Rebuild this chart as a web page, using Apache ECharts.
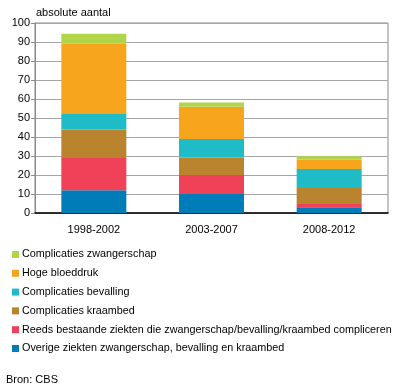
<!DOCTYPE html>
<html><head><meta charset="utf-8">
<script src="https://cdn.jsdelivr.net/npm/echarts@6/dist/echarts.min.js"></script>
<style>html,body{margin:0;padding:0;background:#fff}#c{width:396px;height:391px}</style>
</head><body><div id="c"></div>
<script>
const categories = ['1998-2002', '2003-2007', '2008-2012'];
const overige = [12, 10, 3];
const reeds = [17, 10, 1.8];
const kraambed = [15, 9.2, 8.4];
const bevalling = [8.1, 9.8, 9.9];
const bloeddruk = [37, 16.9, 4.9];
const zwangerschap = [5.3, 2.2, 1.9];
const yTicks = [0, 10, 20, 30, 40, 50, 60, 70, 80, 90, 100];

const seriesDefs = [
  ['Overige ziekten zwangerschap, bevalling en kraambed', overige, '#007cb9'],
  ['Reeds bestaande ziekten die zwangerschap/bevalling/kraambed compliceren', reeds, '#ef4157'],
  ['Complicaties kraambed', kraambed, '#ba842f'],
  ['Complicaties bevalling', bevalling, '#1fbbc6'],
  ['Hoge bloeddruk', bloeddruk, '#f8a51e'],
  ['Complicaties zwangerschap', zwangerschap, '#b2d44a']
];
const font = 'Arial, "Liberation Sans", sans-serif';
const chart = echarts.init(document.getElementById('c'), null, {renderer: 'canvas'});
chart.setOption({
  animation: false,
  textStyle: {fontFamily: font},
  title: {text: 'absolute aantal', left: 36, top: 7, padding: 0, textStyle: {fontSize: 11, fontWeight: 'normal', color: '#000', fontFamily: font}},
  graphic: [{type: 'text', left: 6, top: 374, style: {text: 'Bron: CBS', fontSize: 11, fill: '#000', fontFamily: font}}],
  grid: {left: 35, right: 8, top: 23, bottom: 178, show: true, borderColor: '#8a8a8a', borderWidth: 1},
  legend: {
    orient: 'vertical', left: 12, top: 249, padding: 0, itemWidth: 7, itemHeight: 7, itemGap: 7.8,
    icon: 'rect',
    textStyle: {fontSize: 10.8, color: '#000', fontFamily: font, padding: [0, 0, 0, -2]},
    data: seriesDefs.map(d => d[0]).reverse()
  },
  xAxis: {
    type: 'category', data: categories,
    axisLine: {lineStyle: {color: '#000', width: 1.5}},
    axisTick: {show: false},
    axisLabel: {fontSize: 11, color: '#000', margin: 11}
  },
  yAxis: {
    type: 'value', min: 0, max: 100, interval: 10,
    axisLine: {show: true, lineStyle: {color: '#8a8a8a'}},
    axisTick: {show: true, length: 4, lineStyle: {color: '#8a8a8a'}},
    axisLabel: {fontSize: 11, color: '#000', margin: 5, formatter: v => yTicks.includes(v) ? String(v) : ''},
    splitLine: {lineStyle: {color: '#a6a6a6', width: 1}}
  },
  series: seriesDefs.map(d => ({
    name: d[0], type: 'bar', stack: 'a', data: d[1], barWidth: 65,
    itemStyle: {color: d[2]}
  }))
});
</script></body></html>
